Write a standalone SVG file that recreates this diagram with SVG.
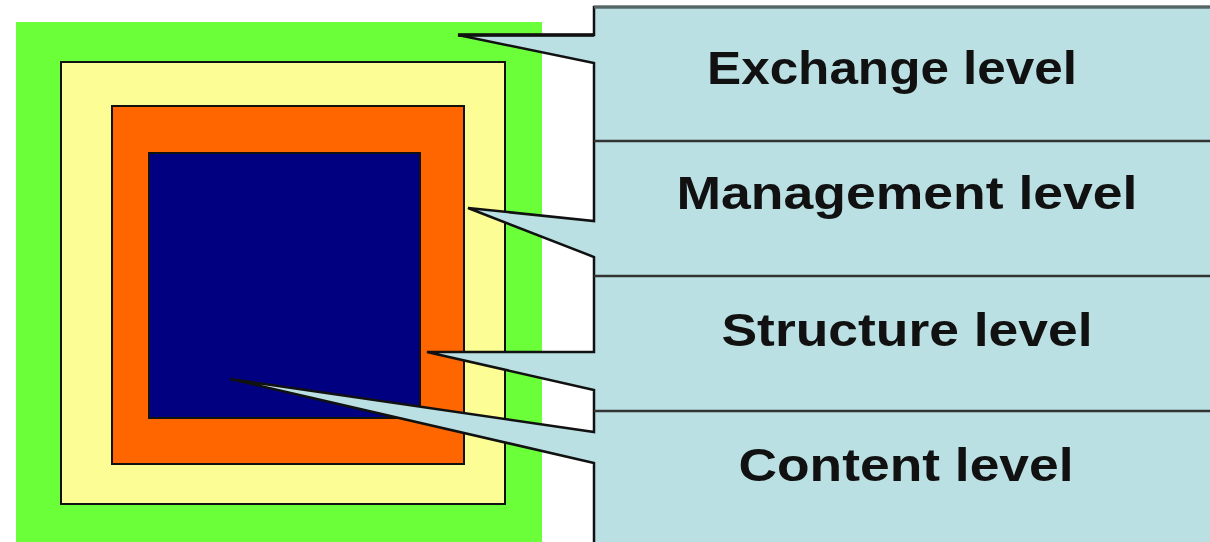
<svg xmlns="http://www.w3.org/2000/svg" width="1210" height="542" viewBox="0 0 1210 542">
<style>
.lvl{stroke:#111;stroke-width:2}
.lbl{font-family:"Liberation Sans",Arial,sans-serif;font-weight:bold;font-size:46px;fill:#111;text-anchor:middle}
.div{stroke:#333;stroke-width:2.5}
</style>
<rect width="1210" height="542" fill="#fff"/>
<g id="exchange-square"><rect x="16" y="22" width="526" height="520" fill="#6bff3a"/></g>
<g id="management-square"><rect x="61" y="62" width="444" height="442" fill="#fdfd96" class="lvl"/></g>
<g id="structure-square"><rect x="112" y="106" width="352" height="358" fill="#ff6600" class="lvl"/></g>
<g id="content-square"><rect x="149" y="153" width="271" height="265" fill="#000080" class="lvl"/></g>
<g id="connectors">
<path d="M594,7 H1214 V546 H594 V463 L230,379 L594,432 V390 L427,352 H594 V257 L468,208 L594,221 V63 L458,35 H594 Z" fill="#bae0e3" stroke="#111" stroke-width="2.5" stroke-linejoin="miter"/>
<line x1="594" y1="7" x2="1210" y2="7" stroke="#566" stroke-width="3"/>
<line x1="458" y1="35" x2="594" y2="35" stroke="#111" stroke-width="3.5"/>
</g>
<g id="panel-dividers">
<line class="div" x1="594" y1="141" x2="1210" y2="141"/>
<line class="div" x1="594" y1="276" x2="1210" y2="276"/>
<line class="div" x1="594" y1="411" x2="1210" y2="411"/>
</g>
<g id="label-exchange"><text class="lbl" x="892" y="84" textLength="370" lengthAdjust="spacingAndGlyphs">Exchange level</text></g>
<g id="label-management"><text class="lbl" x="907" y="209" textLength="461" lengthAdjust="spacingAndGlyphs">Management level</text></g>
<g id="label-structure"><text class="lbl" x="907" y="346" textLength="371" lengthAdjust="spacingAndGlyphs">Structure level</text></g>
<g id="label-content"><text class="lbl" x="906" y="481" textLength="335" lengthAdjust="spacingAndGlyphs">Content level</text></g>
</svg>
